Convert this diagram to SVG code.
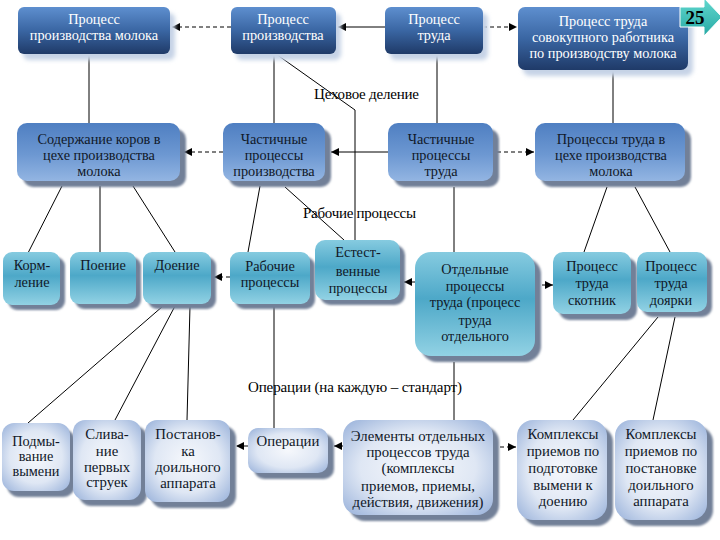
<svg xmlns="http://www.w3.org/2000/svg" width="720" height="540" viewBox="0 0 720 540" font-family="'Liberation Serif', 'DejaVu Serif', serif">
<defs>
<linearGradient id="gTop" x1="0" y1="0" x2="0" y2="1">
<stop offset="0" stop-color="#5e8fcf"/><stop offset="0.5" stop-color="#3a66a3"/><stop offset="1" stop-color="#1f3a68"/>
</linearGradient>
<linearGradient id="gMid" x1="0" y1="0" x2="0" y2="1">
<stop offset="0" stop-color="#4f7fc2"/><stop offset="0.55" stop-color="#6d98d2"/><stop offset="1" stop-color="#93b5e2"/>
</linearGradient>
<linearGradient id="gTeal" x1="0" y1="0" x2="0" y2="1">
<stop offset="0" stop-color="#86cbe0"/><stop offset="0.45" stop-color="#4da8c8"/><stop offset="1" stop-color="#92d2e4"/>
</linearGradient>
<radialGradient id="gLight" cx="0.5" cy="0.5" r="0.7">
<stop offset="0" stop-color="#f6f8fc"/><stop offset="0.55" stop-color="#dfe7f4"/><stop offset="1" stop-color="#98b1da"/>
</radialGradient>
<linearGradient id="gNum" x1="0" y1="0" x2="0" y2="1">
<stop offset="0" stop-color="#62d8cf"/><stop offset="1" stop-color="#27a9a4"/>
</linearGradient>
<filter id="blur" x="-20%" y="-20%" width="140%" height="140%"><feGaussianBlur stdDeviation="2"/></filter>
<filter id="blur1" x="-20%" y="-20%" width="140%" height="140%"><feGaussianBlur stdDeviation="1"/></filter>
<marker id="arr" markerWidth="8" markerHeight="8" refX="8" refY="4" orient="auto" markerUnits="userSpaceOnUse">
<path d="M0,0 L8,4 L0,8 z" fill="#000"/>
</marker>
</defs>
<style>
text{font-family:"Liberation Serif","DejaVu Serif",serif;font-size:14.3px;text-anchor:middle;fill:#101828}
.w{fill:#ffffff}
.r4{font-size:14.8px}
.lbl{font-size:15px;fill:#000;text-anchor:start}
.sT{fill:#c6d3e6;filter:url(#blur)}
.s{fill:#728098;filter:url(#blur1)}
.top{fill:url(#gTop)}
.mid{fill:url(#gMid)}
.teal{fill:url(#gTeal)}
.lt{fill:url(#gLight)}
.ln{stroke:#000;stroke-width:1;fill:none}
.dsh{stroke-dasharray:4,3}
.a{marker-end:url(#arr)}
</style>

<g id="connectors">
<line class="ln dsh a" x1="231" y1="27" x2="172" y2="27"/>
<line class="ln a" x1="385" y1="27" x2="338" y2="27"/>
<line class="ln dsh a" x1="483" y1="27" x2="517" y2="27"/>
<line class="ln" x1="89" y1="54" x2="89" y2="123"/>
<line class="ln" x1="274" y1="54" x2="274" y2="123"/>
<polyline class="ln" points="276,54 355,110 355,240"/>
<line class="ln" x1="437" y1="54" x2="437" y2="123"/>
<line class="ln" x1="613" y1="70" x2="613" y2="123"/>
<line class="ln dsh a" x1="223" y1="152" x2="184" y2="152"/>
<line class="ln a" x1="388" y1="152" x2="331" y2="152"/>
<line class="ln dsh a" x1="497" y1="152" x2="534" y2="152"/>
<line class="ln" x1="62" y1="186" x2="28" y2="253"/>
<line class="ln" x1="100" y1="186" x2="100" y2="252"/>
<line class="ln" x1="133" y1="186" x2="175" y2="252"/>
<line class="ln" x1="260" y1="186" x2="248" y2="252"/>
<line class="ln" x1="285" y1="187" x2="344" y2="240"/>
<line class="ln" x1="454" y1="187" x2="454" y2="252"/>
<line class="ln" x1="607" y1="187" x2="584" y2="252"/>
<line class="ln" x1="635" y1="187" x2="670" y2="252"/>
<line class="ln dsh a" x1="230" y1="277" x2="214" y2="277"/>
<line class="ln a" x1="415" y1="282" x2="404" y2="282"/>
<line class="ln dsh a" x1="542" y1="285" x2="553" y2="285"/>
<line class="ln" x1="163" y1="306" x2="28" y2="423"/>
<line class="ln" x1="175" y1="306" x2="115" y2="420"/>
<line class="ln" x1="190" y1="306" x2="187" y2="420"/>
<line class="ln" x1="274" y1="306" x2="274" y2="428"/>
<line class="ln" x1="454" y1="362" x2="454" y2="420"/>
<line class="ln" x1="658" y1="317" x2="573" y2="420"/>
<line class="ln" x1="675" y1="317" x2="653" y2="420"/>
<line class="ln dsh a" x1="248" y1="446" x2="236" y2="446"/>
<line class="ln a" x1="343" y1="446" x2="334" y2="446"/>
<line class="ln dsh a" x1="500" y1="447" x2="516" y2="447"/>
</g>

<g id="labels">
<text class="lbl" x="314" y="99" textLength="105">Цеховое деление</text>
<text class="lbl" x="303" y="218" textLength="113">Рабочие процессы</text>
<text class="lbl" x="248" y="392" textLength="214">Операции (на каждую – стандарт)</text>
</g>

<g id="n1"><rect class="sT" x="23" y="13" width="152" height="47" rx="6"/><rect class="top" x="18" y="7" width="152" height="47" rx="6"/>
<text class="w"><tspan x="94" y="24">Процесс</tspan><tspan x="94" y="40">производства молока</tspan></text></g>
<g id="n2"><rect class="sT" x="236" y="13" width="105" height="47" rx="6"/><rect class="top" x="231" y="7" width="105" height="47" rx="6"/>
<text class="w"><tspan x="283" y="24">Процесс</tspan><tspan x="283" y="40">производства</tspan></text></g>
<g id="n3"><rect class="sT" x="390" y="13" width="98" height="47" rx="6"/><rect class="top" x="385" y="7" width="98" height="47" rx="6"/>
<text class="w"><tspan x="434" y="24">Процесс</tspan><tspan x="434" y="40">труда</tspan></text></g>
<g id="n4"><rect class="sT" x="523" y="13" width="170" height="63" rx="7"/><rect class="top" x="518" y="7" width="170" height="63" rx="7"/>
<text class="w"><tspan x="603" y="26">Процесс труда</tspan><tspan x="603" y="42">совокупного работника</tspan><tspan x="603" y="58">по производству молока</tspan></text></g>

<g id="n5"><rect class="s" x="23" y="129" width="163" height="58" rx="10"/><rect class="mid" x="17" y="123" width="163" height="58" rx="10"/>
<text><tspan x="99" y="144">Содержание коров в</tspan><tspan x="99" y="160">цехе производства</tspan><tspan x="99" y="176">молока</tspan></text></g>
<g id="n6"><rect class="s" x="229" y="129" width="102" height="58" rx="10"/><rect class="mid" x="223" y="123" width="102" height="58" rx="10"/>
<text><tspan x="274" y="144">Частичные</tspan><tspan x="274" y="160">процессы</tspan><tspan x="274" y="176">производства</tspan></text></g>
<g id="n7"><rect class="s" x="394" y="129" width="105" height="58" rx="10"/><rect class="mid" x="388" y="123" width="105" height="58" rx="10"/>
<text><tspan x="441" y="144">Частичные</tspan><tspan x="441" y="160">процессы</tspan><tspan x="441" y="176">труда</tspan></text></g>
<g id="n8"><rect class="s" x="541" y="129" width="150" height="58" rx="10"/><rect class="mid" x="535" y="123" width="150" height="58" rx="10"/>
<text><tspan x="611" y="144">Процессы труда в</tspan><tspan x="611" y="160">цехе производства</tspan><tspan x="611" y="176">молока</tspan></text></g>

<g id="n9"><rect class="s" x="8" y="257" width="57" height="53" rx="9"/><rect class="teal" x="3" y="252" width="57" height="53" rx="9"/>
<text><tspan x="32" y="270">Корм-</tspan><tspan x="32" y="287">ление</tspan></text></g>
<g id="n10"><rect class="s" x="75" y="257" width="66" height="52" rx="9"/><rect class="teal" x="70" y="252" width="66" height="52" rx="9"/>
<text><tspan x="103" y="270">Поение</tspan></text></g>
<g id="n11"><rect class="s" x="148" y="257" width="68" height="52" rx="9"/><rect class="teal" x="143" y="252" width="68" height="52" rx="9"/>
<text><tspan x="177" y="270">Доение</tspan></text></g>
<g id="n12"><rect class="s" x="235" y="257" width="80" height="52" rx="9"/><rect class="teal" x="230" y="252" width="80" height="52" rx="9"/>
<text><tspan x="270" y="271">Рабочие</tspan><tspan x="270" y="287">процессы</tspan></text></g>
<g id="n13"><rect class="s" x="320" y="245" width="85" height="60" rx="10"/><rect class="teal" x="315" y="240" width="85" height="60" rx="10"/>
<text><tspan x="358" y="257">Естест-</tspan><tspan x="358" y="276">венные</tspan><tspan x="358" y="293">процессы</tspan></text></g>
<g id="n14"><rect class="s" x="421" y="258" width="120" height="104" rx="16"/><rect class="teal" x="415" y="252" width="120" height="104" rx="16"/>
<text><tspan x="475" y="274">Отдельные</tspan><tspan x="475" y="291">процессы</tspan><tspan x="475" y="307">труда (процесс</tspan><tspan x="475" y="325">труда</tspan><tspan x="475" y="341">отдельного</tspan></text></g>
<g id="n15"><rect class="s" x="559" y="258" width="78" height="62" rx="10"/><rect class="teal" x="553" y="252" width="78" height="62" rx="10"/>
<text><tspan x="592" y="271">Процесс</tspan><tspan x="592" y="288">труда</tspan><tspan x="592" y="305">скотник</tspan></text></g>
<g id="n16"><rect class="s" x="642" y="257" width="70" height="60" rx="10"/><rect class="teal" x="637" y="252" width="70" height="60" rx="10"/>
<text><tspan x="671" y="271">Процесс</tspan><tspan x="671" y="288">труда</tspan><tspan x="671" y="305">доярки</tspan></text></g>

<g id="n17"><rect class="s" x="7" y="429" width="68" height="68" rx="12"/><rect class="lt" x="2" y="423" width="68" height="68" rx="12"/>
<text><tspan x="36" y="446">Подмы-</tspan><tspan x="36" y="461">вание</tspan><tspan x="36" y="476">вымени</tspan></text></g>
<g id="n18"><rect class="s" x="79" y="426" width="68" height="80" rx="12"/><rect class="lt" x="73" y="420" width="68" height="80" rx="12"/>
<text class="r4"><tspan x="107" y="439">Слива-</tspan><tspan x="107" y="456">ние</tspan><tspan x="107" y="472">первых</tspan><tspan x="107" y="487">струек</tspan></text></g>
<g id="n19"><rect class="s" x="151" y="426" width="85" height="82" rx="12"/><rect class="lt" x="145" y="420" width="85" height="82" rx="12"/>
<text class="r4"><tspan x="188" y="439">Постанов-</tspan><tspan x="188" y="456">ка</tspan><tspan x="188" y="472">доильного</tspan><tspan x="188" y="488">аппарата</tspan></text></g>
<g id="n20"><rect class="s" x="254" y="434" width="80" height="45" rx="10"/><rect class="lt" x="248" y="428" width="80" height="45" rx="10"/>
<text class="r4"><tspan x="288" y="446">Операции</tspan></text></g>
<g id="n21"><rect class="s" x="349" y="426" width="150" height="95" rx="16"/><rect class="lt" x="343" y="420" width="150" height="95" rx="16"/>
<text class="r4"><tspan x="418" y="441">Элементы отдельных</tspan><tspan x="418" y="457">процессов труда</tspan><tspan x="418" y="473">(комплексы</tspan><tspan x="418" y="491">приемов, приемы,</tspan><tspan x="418" y="507">действия, движения)</tspan></text></g>
<g id="n22"><rect class="s" x="523" y="426" width="90" height="100" rx="16"/><rect class="lt" x="517" y="420" width="90" height="100" rx="16"/>
<text class="r4"><tspan x="563" y="439">Комплексы</tspan><tspan x="563" y="456">приемов по</tspan><tspan x="563" y="473">подготовке</tspan><tspan x="563" y="490">вымени к</tspan><tspan x="563" y="506">доению</tspan></text></g>
<g id="n23"><rect class="s" x="621" y="426" width="92" height="100" rx="16"/><rect class="lt" x="615" y="420" width="92" height="100" rx="16"/>
<text class="r4"><tspan x="661" y="439">Комплексы</tspan><tspan x="661" y="456">приемов по</tspan><tspan x="661" y="473">постановке</tspan><tspan x="661" y="490">доильного</tspan><tspan x="661" y="506">аппарата</tspan></text></g>

<g id="page-number">
<path d="M680,7 H704 V-2 L722,17 L704,36 V27 H680 Z" fill="url(#gNum)" stroke="#ffffff" stroke-width="1"/>
<text x="695" y="24" style="font-size:19px;font-weight:bold;fill:#000">25</text>
</g>
</svg>
